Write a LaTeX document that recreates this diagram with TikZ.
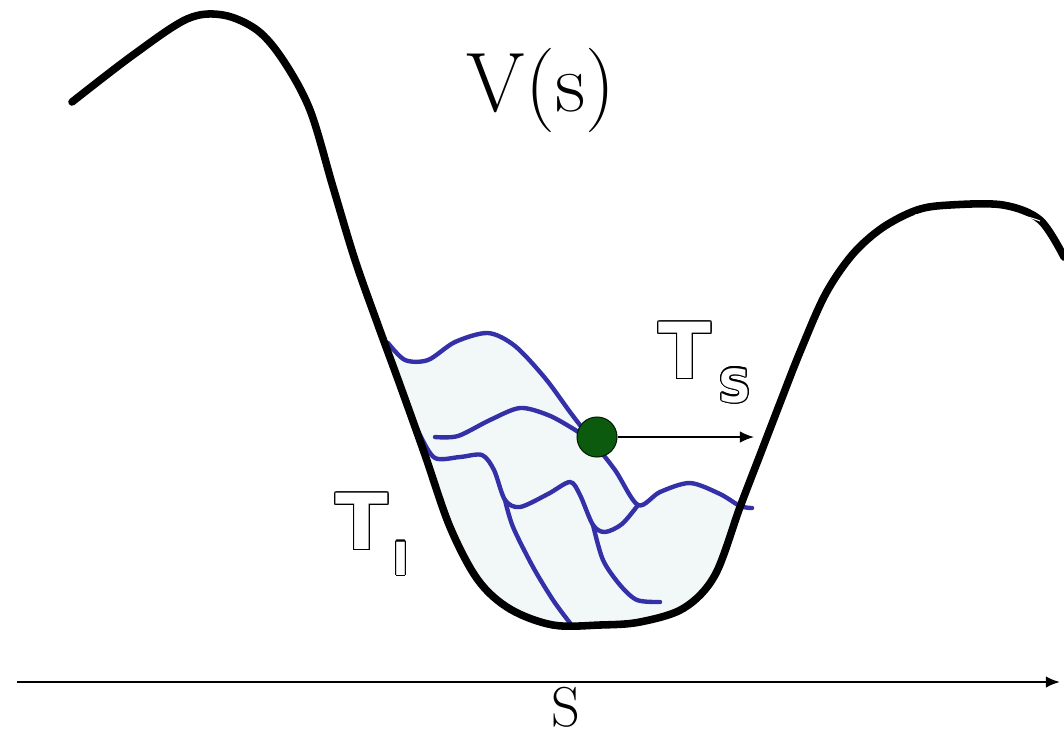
\documentclass[tikz,border=0pt]{standalone}
\usepackage{fontspec}
\newfontfamily\tfont{DejaVu Sans}
\usepackage{contour}
\contourlength{0.7pt}
\usetikzlibrary{arrows.meta}

\definecolor{trajblue}{RGB}{52,48,168}
\definecolor{wellfill}{RGB}{242,248,248}
\definecolor{balldark}{RGB}{12,90,14}

\newcommand{\hollow}[1]{\contour{black}{\textcolor{white}{#1}}}

\begin{document}
\begin{tikzpicture}[>={Latex[length=8pt, width=6.5pt]}, x=0.02cm, y=-0.02cm,
    wall/.style={line width=4.3pt, line cap=round, line join=round},
    traj/.style={trajblue, line width=2.5pt, line cap=round, line join=round},
    biglbl/.style={inner sep=0pt, font=\tfont\bfseries\fontsize{44}{44}\selectfont},
    smalllbl/.style={inner sep=0pt, font=\tfont\bfseries\fontsize{26}{26}\selectfont}]
  \useasboundingbox (0,0) rectangle (1064,735);

  % Shaded basin under the trajectories
  \fill[wellfill] plot[smooth, tension=0.5] coordinates {(390,343) (405,360) (428,360)
      (455,342) (488,333) (515,346) (545,378) (570,412) (590,438) (615,470) (638,505)
      (660,492) (690,483) (720,494) (740,506) (748,508)}
    -- plot[smooth, tension=0.5] coordinates {(740,507) (720,567) (687,607) (637,623)
      (553,625) (520,613) (487,590) (453,533) (425,455) (400,385)} -- cycle;

  % Trajectories
  \draw[traj] plot[smooth, tension=0.5] coordinates {(388,343) (405,360) (428,360)
    (455,342) (488,333) (515,346) (545,378) (570,412) (590,438) (615,470) (638,505)
    (660,492) (690,483) (720,494) (740,506) (752,508)};
  \draw[traj] plot[smooth, tension=0.5] coordinates {(435,437) (458,436) (490,420)
    (520,408) (548,415) (572,428) (590,440)};
  \draw[traj] plot[smooth, tension=0.5] coordinates {(410,410) (420,435) (435,458)
    (460,457) (482,455) (494,470) (505,500) (520,507) (548,494) (570,482) (580,495)
    (593,525) (605,532) (622,524) (638,505)};
  \draw[traj] plot[smooth, tension=0.5] coordinates {(505,500) (513,527) (533,567)
    (553,600) (570,623)};
  \draw[traj] plot[smooth, tension=0.5] coordinates {(593,525) (603,560) (620,585)
    (637,600) (660,602)};

  % Potential curve
  \draw[wall] plot[smooth, tension=0.55] coordinates {(72,102) (133,55) (187,19) (223,15)
    (257,30) (283,60) (310,110) (333,187) (355,260) (378,325) (400,385) (425,455)
    (450,527) (478,580) (510,609) (553,625) (600,625) (640,622) (684,608) (715,575)
    (740,507) (760,455) (780,403) (800,352) (825,295) (852,255) (882,228) (917,210)
    (950,205) (1003,205) (1040,220) (1064,257)};
  \draw[white, line width=0.6pt] (915,215) .. controls (960,210) and (1010,209) .. (1040,221);

  % Walker and its kick
  \node[circle, fill=balldark, draw=black!70!balldark, line width=0.6pt,
    minimum size=0.8cm, inner sep=0pt] (ball) at (597,437) {};
  \coordinate (kick) at (754,437);
  \draw[->, line width=0.9pt] (ball) -- (kick);

  % Labels
  \node (vs) [anchor=base, inner sep=0pt] at (541,111)
    {\rmfamily\fontsize{48}{48}\selectfont V(s)};
  \node (ts) [biglbl] at (685,351) {\hollow{T}};
  \node (tssub) [smalllbl] at (735,386) {\hollow{S}};
  \node (ti) [biglbl] at (362,522) {\hollow{T}};
  \node (tisub) [smalllbl] at (401,559) {\hollow{I}};

  % Reaction coordinate axis
  \coordinate (sstart) at (17,682);
  \coordinate (send) at (1060,682);
  \draw[->, line width=1.2pt] (sstart) -- (send);
  \node (s) [anchor=base, inner sep=0pt] at (566,726)
    {\rmfamily\fontsize{32}{32}\selectfont S};
\end{tikzpicture}
\end{document}
